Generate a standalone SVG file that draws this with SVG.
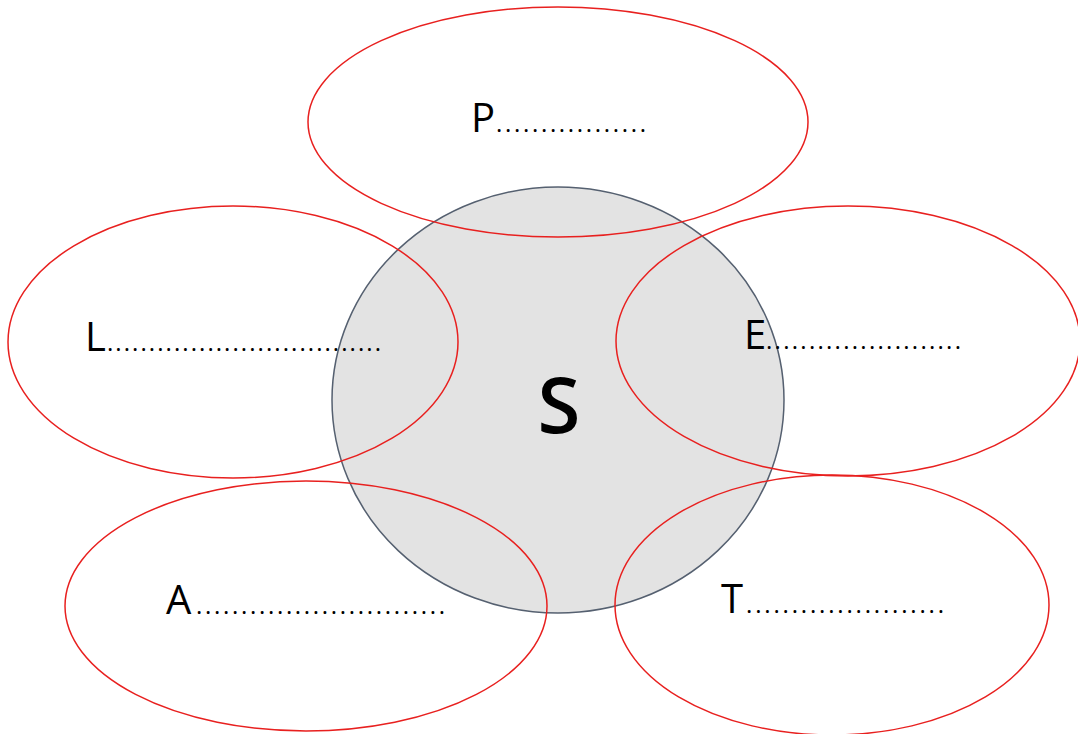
<svg xmlns="http://www.w3.org/2000/svg" width="1078" height="734" viewBox="0 0 1078 734">
<style>
.petal{fill:none;stroke:#e8201f;stroke-width:1.5}
.lbl{font-family:"Open Sans","Noto Sans",sans-serif;font-size:40px;fill:#000}
.dots{font-family:"Open Sans","Noto Sans",sans-serif;font-size:24px;fill:#000}
</style>
<rect width="1078" height="734" fill="#fff"/>
<g id="center">
<ellipse cx="558" cy="400" rx="226" ry="213" fill="#e3e3e3" stroke="#556070" stroke-width="1.5"/>
<text x="559" y="433" text-anchor="middle" font-family="'Open Sans','Noto Sans',sans-serif" font-size="78" font-weight="600">S</text>
</g>
<g id="connectors"></g>
<g id="P">
<ellipse class="petal" cx="558" cy="122" rx="250" ry="115"/>
<text class="lbl" x="471" y="132">P</text>
<text class="dots" x="496" y="132" textLength="150" lengthAdjust="spacing">.................</text>
</g>
<g id="L">
<ellipse class="petal" cx="233" cy="342" rx="225" ry="136"/>
<text class="lbl" x="85" y="351">L</text>
<text class="dots" x="107" y="351" textLength="274" lengthAdjust="spacing">.................................</text>
</g>
<g id="E">
<ellipse class="petal" cx="848" cy="341" rx="232" ry="135"/>
<text class="lbl" x="744" y="349">E</text>
<text class="dots" x="766" y="349" textLength="195" lengthAdjust="spacing">.......................</text>
</g>
<g id="A">
<ellipse class="petal" cx="306" cy="606" rx="241" ry="125"/>
<text class="lbl" x="166" y="614">A</text>
<text class="dots" x="196" y="614" textLength="249" lengthAdjust="spacing">............................</text>
</g>
<g id="T">
<ellipse class="petal" cx="832" cy="605" rx="217" ry="130"/>
<text class="lbl" x="721" y="613">T</text>
<text class="dots" x="746" y="613" textLength="198" lengthAdjust="spacing">......................</text>
</g>
</svg>
